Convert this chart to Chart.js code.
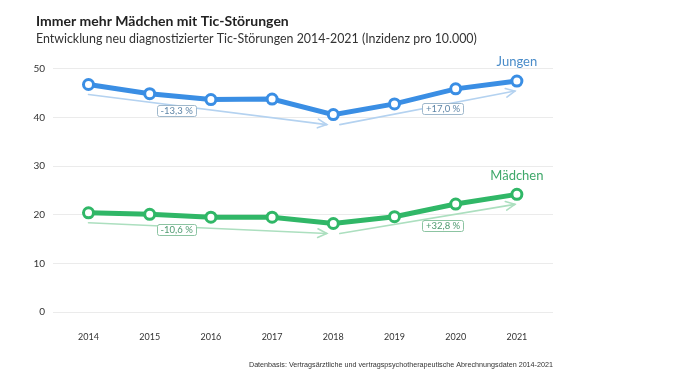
<!DOCTYPE html>
<html><head><meta charset="utf-8">
<script src="https://cdn.jsdelivr.net/npm/chart.js@4.4.1/dist/chart.umd.min.js"></script>
<style>html,body{margin:0;padding:0;background:#fff;} #wrap{width:688px;height:381px;position:relative}</style>
</head><body><div id="wrap"><canvas id="c" width="688" height="381"></canvas></div>
<script>
const years = ['2014','2015','2016','2017','2018','2019','2020','2021'];
const jungen = [46.8, 44.9, 43.7, 43.8, 40.6, 42.8, 45.9, 47.5];
const maedchen = [20.4, 20.1, 19.5, 19.5, 18.2, 19.6, 22.2, 24.2];
const yTicks = [0, 10, 20, 30, 40, 50];
const trendSegments = [[0, 4], [4, 7]];
const jungenChange = ['-13,3 %', '+17,0 %'];
const maedchenChange = ['-10,6 %', '+32,8 %'];
const seriesNames = ['Jungen', 'Mädchen'];
const titleText = 'Immer mehr Mädchen mit Tic-Störungen';
const subtitleText = 'Entwicklung neu diagnostizierter Tic-Störungen 2014-2021 (Inzidenz pro 10.000)';
const footnoteText = 'Datenbasis: Vertragsärztliche und vertragspsychotherapeutische Abrechnungsdaten 2014-2021';

const BLUE = '#3a8ee4', GREEN = '#30b767';
const style = [
  {line: BLUE, arrow: '#b4d2f0', boxBorder: '#9fb8cc', text: '#5f86a8', label: '#4a8cc9',
   labelPos: [{t: 0.37, dy: 5}, {t: 0.59, dy: 4}]},
  {line: GREEN, arrow: '#acdfbf', boxBorder: '#8cc4a2', text: '#4f9a70', label: '#3fa86a',
   labelPos: [{t: 0.37, dy: 3}, {t: 0.59, dy: 9}]}
];
const segInset = [[0, 6.5], [6.5, 2]];
const arrowDrop = 10;
const changes = [jungenChange, maedchenChange];

const trendPlugin = {
  id: 'trend',
  afterLayout(chart) {
    chart.scales.y.left = 0;
  },
  beforeDatasetsDraw(chart) {
    const {ctx, scales: {x, y}} = chart;
    chart.data.datasets.forEach((ds, di) => {
      const st = style[di];
      trendSegments.forEach((seg, si) => {
        const [a, b] = seg;
        const x1 = x.getPixelForValue(a) + segInset[si][0];
        const y1 = y.getPixelForValue(ds.data[a].y) + arrowDrop;
        const x2 = x.getPixelForValue(b) - segInset[si][1];
        const y2 = y.getPixelForValue(ds.data[b].y) + arrowDrop;
        ctx.save();
        ctx.strokeStyle = st.arrow; ctx.lineWidth = 1.6; ctx.lineCap = 'round';
        ctx.beginPath(); ctx.moveTo(x1, y1); ctx.lineTo(x2, y2); ctx.stroke();
        const ang = Math.atan2(y2 - y1, x2 - x1);
        const L = 10, A = 0.45;
        ctx.beginPath();
        ctx.moveTo(x2 - L * Math.cos(ang - A), y2 - L * Math.sin(ang - A));
        ctx.lineTo(x2, y2);
        ctx.lineTo(x2 - L * Math.cos(ang + A), y2 - L * Math.sin(ang + A));
        ctx.stroke();
        const lp = st.labelPos[si];
        const lx = x1 + (x2 - x1) * lp.t;
        const ly = y1 + (y2 - y1) * lp.t + lp.dy;
        ctx.font = '9.5px Lato';
        const txt = changes[di][si];
        const w = ctx.measureText(txt).width + 7, h = 11;
        ctx.fillStyle = '#fff';
        ctx.strokeStyle = st.boxBorder; ctx.lineWidth = 1;
        ctx.beginPath();
        ctx.roundRect(Math.round(lx - w / 2) + 0.5, Math.round(ly - h / 2) + 0.5, Math.round(w), h, 2);
        ctx.fill(); ctx.stroke();
        ctx.fillStyle = st.text; ctx.textAlign = 'center'; ctx.textBaseline = 'middle';
        ctx.fillText(txt, lx, ly + 0.5);
        ctx.restore();
      });
    });
  },
  afterDatasetsDraw(chart) {
    const {ctx, scales: {x, y}} = chart;
    chart.data.datasets.forEach((ds, di) => {
      const last = ds.data[ds.data.length - 1];
      ctx.save();
      ctx.font = '13px Lato';
      ctx.fillStyle = style[di].label; ctx.textAlign = 'center'; ctx.textBaseline = 'middle';
      ctx.fillText(seriesNames[di], x.getPixelForValue(last.x), y.getPixelForValue(last.y) - 19);
      ctx.restore();
    });
  },
  afterDraw(chart) {
    const {ctx, chartArea} = chart;
    ctx.save();
    ctx.font = '7.2px "Liberation Sans Narrow", "Liberation Sans", Lato';
    ctx.fillStyle = '#333'; ctx.textAlign = 'right'; ctx.textBaseline = 'middle';
    ctx.fillText(footnoteText, chartArea.right, 365);
    ctx.restore();
  }
};

const mk = (arr) => arr.map((v, i) => ({x: i, y: v}));

new Chart(document.getElementById('c'), {
  type: 'line',
  data: {
    datasets: [
      {label: seriesNames[0], data: mk(jungen), borderColor: BLUE, borderWidth: 5,
       pointBackgroundColor: '#fff', pointBorderColor: BLUE, pointBorderWidth: 3, pointRadius: 5, tension: 0},
      {label: seriesNames[1], data: mk(maedchen), borderColor: GREEN, borderWidth: 5,
       pointBackgroundColor: '#fff', pointBorderColor: GREEN, pointBorderWidth: 3, pointRadius: 5, tension: 0}
    ]
  },
  options: {
    responsive: false, animation: false, devicePixelRatio: 1,
    layout: {padding: {left: 36, right: 135, top: 0, bottom: 0}},
    plugins: {
      legend: {display: false}, tooltip: {enabled: false},
      title: {display: true, text: titleText, align: 'start', color: '#222',
        font: {family: 'Lato', size: 14, weight: 'bold', lineHeight: 1.2}, padding: {top: 13, bottom: 1}},
      subtitle: {display: true, text: subtitleText, align: 'start', color: '#333',
        font: {family: 'Lato', size: 12.4, lineHeight: 1.3}, padding: {top: 0, bottom: 22}}
    },
    scales: {
      x: {type: 'linear', min: -0.58, max: 7.59,
        afterBuildTicks: (s) => { s.ticks = years.map((_, i) => ({value: i})); },
        afterFit: (s) => { s.height = 69; },
        grid: {display: false, drawTicks: false}, border: {display: false},
        ticks: {padding: 20, color: '#333', font: {family: '"Liberation Sans Narrow", Lato', size: 9},
          callback: (v) => years[v]}},
      y: {min: 0, max: 50,
        afterBuildTicks: (s) => { s.ticks = yTicks.map(v => ({value: v})); },
        afterFit: (s) => { s.width = 17; },
        grid: {color: '#ebebeb', drawTicks: false, lineWidth: 1}, border: {display: false},
        ticks: {padding: 8, color: '#333', font: {family: '"Liberation Sans Narrow", Lato', size: 10}}}
    }
  },
  plugins: [trendPlugin]
});
</script></body></html>
